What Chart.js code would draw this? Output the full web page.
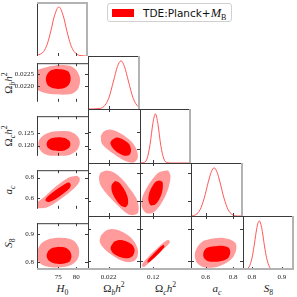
<!DOCTYPE html>
<html>
<head>
<meta charset="utf-8">
<script src="https://cdn.jsdelivr.net/npm/chart.js@4/dist/chart.umd.min.js"></script>
<style>
  html, body { margin: 0; padding: 0; background: #fff; }
  #fig { position: relative; width: 297px; height: 297px; overflow: hidden; }
  #fig canvas { position: absolute; }
  .ttl { position: absolute; font-family: "Liberation Serif", serif; font-size: 11px; color: #1a1a1a; white-space: nowrap; line-height: 1; }
  .ttl sub, .ttl sup { font-size: 0.7em; line-height: 0; }
  .xt { top: 283px; transform: translateX(-50%); }
  .yt { left: 8px; transform: translate(-50%, -50%) rotate(-90deg); }
  #legend { position: absolute; left: 107px; top: 3px; height: 19px; box-sizing: border-box; display: flex; align-items: center;
            padding: 0 5px 0 4px; border: 1px solid #d0d0d0; border-radius: 3px; background: #fff; }
  #legend .sw { width: 22px; height: 8px; background: #ff0000; margin-right: 9px; }
  #legend .lt { font-family: "DejaVu Sans", sans-serif; font-size: 10.5px; color: #111; white-space: nowrap; line-height: 12px; }
  #legend .lt i { font-family: "Liberation Serif", serif; font-size: 12.5px; }
  #legend .lt sub { font-family: "Liberation Serif", serif; font-size: 8px; font-style: normal; line-height: 0; }
</style>
</head>
<body>
<div id="fig">
  <div id="legend"><div class="sw"></div><div class="lt">TDE:Planck+<i>M</i><sub>B</sub></div></div>
  <div class="ttl xt" style="left:62.5px"><i>H</i><sub>0</sub></div>
  <div class="ttl xt" style="left:114px">Ω<sub><i>b</i></sub><i>h</i><sup>2</sup></div>
  <div class="ttl xt" style="left:165.5px">Ω<sub><i>c</i></sub><i>h</i><sup>2</sup></div>
  <div class="ttl xt" style="left:217px"><i>a</i><sub><i>c</i></sub></div>
  <div class="ttl xt" style="left:268.5px"><i>S</i><sub>8</sub></div>
  <div class="ttl yt" style="top:82.5px">Ω<sub><i>b</i></sub><i>h</i><sup>2</sup></div>
  <div class="ttl yt" style="top:136px">Ω<sub><i>c</i></sub><i>h</i><sup>2</sup></div>
  <div class="ttl yt" style="top:189.5px"><i>a</i><sub><i>c</i></sub></div>
  <div class="ttl yt" style="top:243px"><i>S</i><sub>8</sub></div>
</div>
<script>
'use strict';

// parameters: H0, Omega_b h^2, Omega_c h^2, a_c, S8
const axisMin = [69.2, 0.02136, 0.1158, 0.494, 0.770];
const axisMax = [83.2, 0.02297, 0.1320, 0.872, 0.941];
const xTickValues = [[75, 80], [0.022], [0.12], [0.6, 0.8], [0.8, 0.9]];
const xTickLabels = [['75', '80'], ['0.022'], ['0.12'], ['0.6', '0.8'], ['0.8', '0.9']];
const yTickValues = [[], [0.0220, 0.0225], [0.120, 0.125], [0.6, 0.8], [0.8, 0.9]];
const yTickLabels = [[], ['0.0220', '0.0225'], ['0.120', '0.125'], ['0.6', '0.8'], ['0.8', '0.9']];

// 1D marginals (peak = 1)
const H0_grid = [69.2, 71.0, 72.0, 73.0, 74.0, 75.2, 76.4, 77.4, 78.4, 79.4, 81.0, 83.2];
const H0_pdf = [0.01, 0.09, 0.24, 0.51, 0.82, 1.0, 0.82, 0.51, 0.24, 0.09, 0.01, 0.0];
const ombh2_grid = [0.02136, 0.02170, 0.02185, 0.02200, 0.02215, 0.02227, 0.02238, 0.02249, 0.02261, 0.02276, 0.02291, 0.02297];
const ombh2_pdf = [0.0, 0.01, 0.05, 0.22, 0.58, 0.88, 1.0, 0.88, 0.58, 0.22, 0.05, 0.03];
const omch2_grid = [0.1158, 0.1170, 0.1180, 0.1190, 0.1199, 0.1207, 0.1215, 0.1224, 0.1234, 0.1244, 0.1260, 0.1320];
const omch2_pdf = [0.0, 0.01, 0.08, 0.38, 0.81, 1.0, 0.79, 0.36, 0.08, 0.01, 0.0, 0.0];
const ac_grid = [0.494, 0.53, 0.56, 0.59, 0.62, 0.642, 0.662, 0.682, 0.704, 0.734, 0.764, 0.794, 0.83, 0.872];
const ac_pdf = [0.0, 0.03, 0.13, 0.37, 0.71, 0.92, 1.0, 0.92, 0.71, 0.37, 0.13, 0.03, 0.0, 0.0];
const S8_grid = [0.770, 0.790, 0.800, 0.807, 0.814, 0.8195, 0.8246, 0.830, 0.835, 0.842, 0.849, 0.859, 0.875, 0.941];
const S8_pdf = [0.0, 0.06, 0.24, 0.48, 0.77, 0.94, 1.0, 0.93, 0.78, 0.49, 0.25, 0.06, 0.0, 0.0];

// 2D contours, [x, y] points around each 68% / 95% region
const H0_ombh2_95 = [[74.57,0.02288],[76.55,0.02289],[78.65,0.02283],[80.10,0.02266],[80.91,0.02240],[80.99,0.02216],[80.45,0.02189],[79.01,0.02171],[77.10,0.02166],[74.65,0.02167],[72.47,0.02170],[70.56,0.02177],[68.70,0.02195],[68.60,0.02231],[68.80,0.02264],[71.84,0.02280]];
const H0_ombh2_68 = [[74.38,0.02273],[76.28,0.02271],[77.73,0.02263],[78.38,0.02243],[78.33,0.02220],[77.51,0.02201],[75.74,0.02190],[73.83,0.02192],[72.28,0.02203],[71.65,0.02225],[71.92,0.02249],[72.88,0.02266]];
const H0_omch2_95 = [[75.93,0.12593],[78.19,0.12571],[79.82,0.12451],[80.78,0.12269],[80.91,0.12058],[80.23,0.11816],[78.46,0.11635],[76.01,0.11544],[73.29,0.11559],[70.83,0.11695],[69.61,0.11937],[69.74,0.12209],[70.83,0.12405],[73.01,0.12556]];
const H0_omch2_68 = [[75.06,0.12339],[76.83,0.12309],[78.05,0.12194],[78.38,0.12058],[78.00,0.11907],[76.69,0.11801],[75.06,0.11780],[73.29,0.11816],[72.14,0.11922],[71.84,0.12073],[72.33,0.12224],[73.42,0.12309]];
const H0_ac_95 = [[80.23,0.8177],[80.91,0.7930],[80.72,0.7507],[79.55,0.7013],[77.37,0.6344],[74.65,0.5638],[71.92,0.5074],[70.02,0.5004],[68.66,0.5109],[68.66,0.5603],[69.74,0.5709],[71.92,0.6344],[74.10,0.7049],[76.28,0.7648],[78.46,0.8071]];
const H0_ac_68 = [[78.05,0.7507],[78.46,0.7296],[78.19,0.6978],[76.36,0.6414],[74.10,0.5850],[72.33,0.5603],[71.52,0.5744],[71.92,0.6061],[73.64,0.6590],[75.93,0.7154],[77.37,0.7472]];
const H0_S8_95 = [[74.65,0.8880],[77.10,0.8865],[79.28,0.8769],[80.50,0.8561],[80.78,0.8306],[80.10,0.8051],[78.19,0.7860],[75.74,0.7796],[72.74,0.7812],[70.56,0.7892],[69.34,0.8083],[69.34,0.8402],[70.29,0.8657],[72.20,0.8817]];
const H0_S8_68 = [[75.19,0.8552],[77.10,0.8514],[78.33,0.8370],[78.65,0.8179],[78.05,0.8003],[76.28,0.7930],[74.10,0.7939],[72.47,0.8035],[71.84,0.8211],[72.33,0.8402],[73.56,0.8514]];
const ombh2_omch2_95 = [[0.021754,0.12390],[0.021848,0.12526],[0.022036,0.12587],[0.022255,0.12526],[0.022537,0.12360],[0.022756,0.12163],[0.022881,0.11937],[0.022897,0.11725],[0.022772,0.11595],[0.022537,0.11635],[0.022255,0.11786],[0.021973,0.11982],[0.021786,0.12163]];
const ombh2_omch2_68 = [[0.022099,0.12269],[0.022255,0.12345],[0.022443,0.12284],[0.022631,0.12148],[0.022693,0.11967],[0.022646,0.11831],[0.022474,0.11801],[0.022255,0.11907],[0.022114,0.12043],[0.022052,0.12179]];
const ombh2_ac_95 = [[0.021754,0.8036],[0.021942,0.8177],[0.022161,0.8036],[0.022412,0.7578],[0.022662,0.6872],[0.022850,0.6238],[0.022928,0.5603],[0.022897,0.5145],[0.022693,0.5004],[0.022474,0.5286],[0.022192,0.5885],[0.021911,0.6590],[0.021739,0.7190],[0.021701,0.7719]];
const ombh2_ac_68 = [[0.022192,0.7437],[0.022318,0.7331],[0.022474,0.6872],[0.022584,0.6308],[0.022599,0.5815],[0.022521,0.5568],[0.022365,0.5709],[0.022208,0.6167],[0.022099,0.6696],[0.022092,0.7154]];
const ombh2_S8_95 = [[0.021754,0.8785],[0.021911,0.8944],[0.022099,0.8998],[0.022349,0.8944],[0.022599,0.8801],[0.022787,0.8609],[0.022897,0.8370],[0.022897,0.8147],[0.022787,0.7987],[0.022568,0.7955],[0.022318,0.8035],[0.022067,0.8195],[0.021848,0.8386],[0.021723,0.8593]];
const ombh2_S8_68 = [[0.022161,0.8593],[0.022318,0.8648],[0.022537,0.8609],[0.022725,0.8498],[0.022803,0.8338],[0.022756,0.8163],[0.022599,0.8073],[0.022349,0.8115],[0.022130,0.8242],[0.022058,0.8402]];
const omch2_ac_95 = [[0.12311,0.8142],[0.12468,0.8177],[0.12547,0.7789],[0.12500,0.7084],[0.12374,0.6308],[0.12185,0.5603],[0.11964,0.5145],[0.11760,0.5180],[0.11634,0.5603],[0.11649,0.6238],[0.11791,0.6943],[0.11980,0.7578],[0.12153,0.8001]];
const omch2_ac_68 = [[0.12185,0.7472],[0.12295,0.7366],[0.12295,0.6802],[0.12216,0.6238],[0.12075,0.5779],[0.11917,0.5709],[0.11845,0.6097],[0.11886,0.6661],[0.11996,0.7154],[0.12090,0.7401]];
const omch2_S8_95 = [[0.12484,0.8657],[0.12531,0.8577],[0.12405,0.8434],[0.12216,0.8258],[0.11996,0.8051],[0.11807,0.7876],[0.11697,0.7796],[0.11643,0.7844],[0.11697,0.7955],[0.11870,0.8147],[0.12090,0.8354],[0.12279,0.8530],[0.12405,0.8625]];
const omch2_S8_68 = [[0.12327,0.8498],[0.12358,0.8434],[0.12153,0.8195],[0.11901,0.7971],[0.11823,0.7939],[0.11823,0.8003],[0.12027,0.8227],[0.12232,0.8434]];
const ac_S8_95 = [[0.6249,0.8673],[0.7058,0.8721],[0.7720,0.8673],[0.8161,0.8561],[0.8235,0.8370],[0.8014,0.8115],[0.7426,0.7907],[0.6617,0.7780],[0.5808,0.7796],[0.5330,0.7955],[0.5219,0.8211],[0.5440,0.8450],[0.5808,0.8609]];
const ac_S8_68 = [[0.6617,0.8450],[0.7205,0.8466],[0.7683,0.8402],[0.7793,0.8243],[0.7610,0.8067],[0.6984,0.7971],[0.6249,0.7971],[0.5881,0.8083],[0.5845,0.8258],[0.6102,0.8402]];

const marginals = [
  [H0_grid, H0_pdf], [ombh2_grid, ombh2_pdf], [omch2_grid, omch2_pdf], [ac_grid, ac_pdf], [S8_grid, S8_pdf]
];
// key: col_row
const contours = {
  '0_1': [H0_ombh2_68, H0_ombh2_95],
  '0_2': [H0_omch2_68, H0_omch2_95],
  '0_3': [H0_ac_68, H0_ac_95],
  '0_4': [H0_S8_68, H0_S8_95],
  '1_2': [ombh2_omch2_68, ombh2_omch2_95],
  '1_3': [ombh2_ac_68, ombh2_ac_95],
  '1_4': [ombh2_S8_68, ombh2_S8_95],
  '2_3': [omch2_ac_68, omch2_ac_95],
  '2_4': [omch2_S8_68, omch2_S8_95],
  '3_4': [ac_S8_68, ac_S8_95]
};

// panel grid (page pixels)
const colLeft = [37, 88, 140, 191, 243];
const colWidth = [51, 52, 51, 52, 51];
const rowTop = [2, 56, 109, 163, 216];
const rowHeight = [54, 53, 54, 53, 54];
const LEFT_PAD = 37, BOTTOM_PAD = 27;

const darkRed = '#ff0000';
const lightRed = '#ff9b9b';

const framePlugin = {
  id: 'frame',
  afterDatasetsDraw(chart, args, opts) {
    const { ctx, chartArea: a } = chart;
    const xs = chart.scales.x, ys = chart.scales.y;
    const r = opts.row, c = opts.col;
    ctx.save();
    ctx.lineWidth = 1;
    ctx.strokeStyle = '#3a3a3a';
    ctx.beginPath();
    xTickValues[c].forEach(v => {
      const px = Math.round(xs.getPixelForValue(v)) + 0.5;
      ctx.moveTo(px, a.bottom); ctx.lineTo(px, a.bottom - 3);
      if (r !== c) { ctx.moveTo(px, a.top); ctx.lineTo(px, a.top + 3); }
    });
    if (r !== c) {
      yTickValues[r].forEach(v => {
        const py = Math.round(ys.getPixelForValue(v)) + 0.5;
        ctx.moveTo(a.left, py); ctx.lineTo(a.left + 3, py);
        ctx.moveTo(a.right, py); ctx.lineTo(a.right - 3, py);
      });
    }
    ctx.moveTo(a.left + 0.5, a.top); ctx.lineTo(a.left + 0.5, a.bottom);
    if (!(r === 0 && c === 0)) { ctx.moveTo(a.left, a.top + 0.5); ctx.lineTo(a.right, a.top + 0.5); }
    ctx.stroke();

    // outer edges are grey
    ctx.strokeStyle = '#b3b3b3';
    ctx.lineWidth = 2;
    ctx.beginPath();
    if (r === c) { ctx.moveTo(a.right - 1, a.top); ctx.lineTo(a.right - 1, a.bottom); }
    if (r === 4) { ctx.moveTo(a.left, a.bottom - 1); ctx.lineTo(a.right, a.bottom - 1); }
    if (r === 0 && c === 0) { ctx.moveTo(a.left, a.top + 1); ctx.lineTo(a.right, a.top + 1); }
    ctx.stroke();
    ctx.restore();
  }
};

function toPoints(pairs, close) {
  const pts = pairs.map(p => ({ x: p[0], y: p[1] }));
  if (close) pts.push({ x: pairs[0][0], y: pairs[0][1] });
  return pts;
}

const fig = document.getElementById('fig');
const tickFont = { family: '"Liberation Serif", serif', size: 7 };

for (let r = 0; r < 5; r++) {
  for (let c = 0; c <= r; c++) {
    const diag = r === c;
    const leftPad = c === 0 ? LEFT_PAD : 0;
    const bottomPad = r === 4 ? BOTTOM_PAD : 0;
    const w = colWidth[c] + leftPad, h = rowHeight[r] + bottomPad;

    const cv = document.createElement('canvas');
    cv.width = w; cv.height = h;
    cv.style.left = (colLeft[c] - leftPad) + 'px';
    cv.style.top = rowTop[r] + 'px';
    cv.style.width = w + 'px';
    cv.style.height = h + 'px';
    fig.appendChild(cv);

    let datasets;
    if (diag) {
      const [gx, gy] = marginals[c];
      datasets = [{
        data: gx.map((v, k) => ({ x: v, y: gy[k] })),
        showLine: true,
        borderColor: '#ff4545',
        borderWidth: 0.9,
        cubicInterpolationMode: 'monotone',
        fill: false
      }];
    } else {
      const [c68, c95] = contours[c + '_' + r];
      datasets = [
        { data: toPoints(c68, true), showLine: true, fill: 'shape', backgroundColor: darkRed,
          borderColor: 'rgba(0,0,0,0)', borderWidth: 0, tension: 0.3, order: 1 },
        { data: toPoints(c95, true), showLine: true, fill: 'shape', backgroundColor: lightRed,
          borderColor: 'rgba(0,0,0,0)', borderWidth: 0, tension: 0.3, order: 2 }
      ];
    }

    new Chart(cv, {
      type: 'scatter',
      data: { datasets },
      options: {
        responsive: false,
        animation: false,
        devicePixelRatio: 1,
        events: [],
        layout: { padding: 0 },
        elements: { point: { radius: 0 } },
        plugins: {
          legend: { display: false },
          tooltip: { enabled: false },
          frame: { row: r, col: c }
        },
        scales: {
          x: {
            type: 'linear',
            min: axisMin[c],
            max: axisMax[c],
            grid: { display: false, drawTicks: false },
            border: { display: false },
            ticks: {
              display: r === 4,
              autoSkip: false,
              maxRotation: 0,
              padding: 3,
              font: tickFont,
              color: '#222',
              callback: (v, k) => xTickLabels[c][k]
            },
            afterBuildTicks: s => { s.ticks = xTickValues[c].map(v => ({ value: v })); },
            afterFit: s => { s.height = bottomPad; }
          },
          y: {
            type: 'linear',
            min: diag ? 0 : axisMin[r],
            max: diag ? 1.1 : axisMax[r],
            grid: { display: false, drawTicks: false },
            border: { display: false },
            ticks: {
              display: c === 0 && !diag,
              autoSkip: false,
              padding: 3,
              font: tickFont,
              color: '#222',
              callback: (v, k) => yTickLabels[r][k]
            },
            afterBuildTicks: s => { s.ticks = diag ? [] : yTickValues[r].map(v => ({ value: v })); },
            afterFit: s => { s.width = leftPad; }
          }
        }
      },
      plugins: [framePlugin]
    });
  }
}
</script>
</body>
</html>
